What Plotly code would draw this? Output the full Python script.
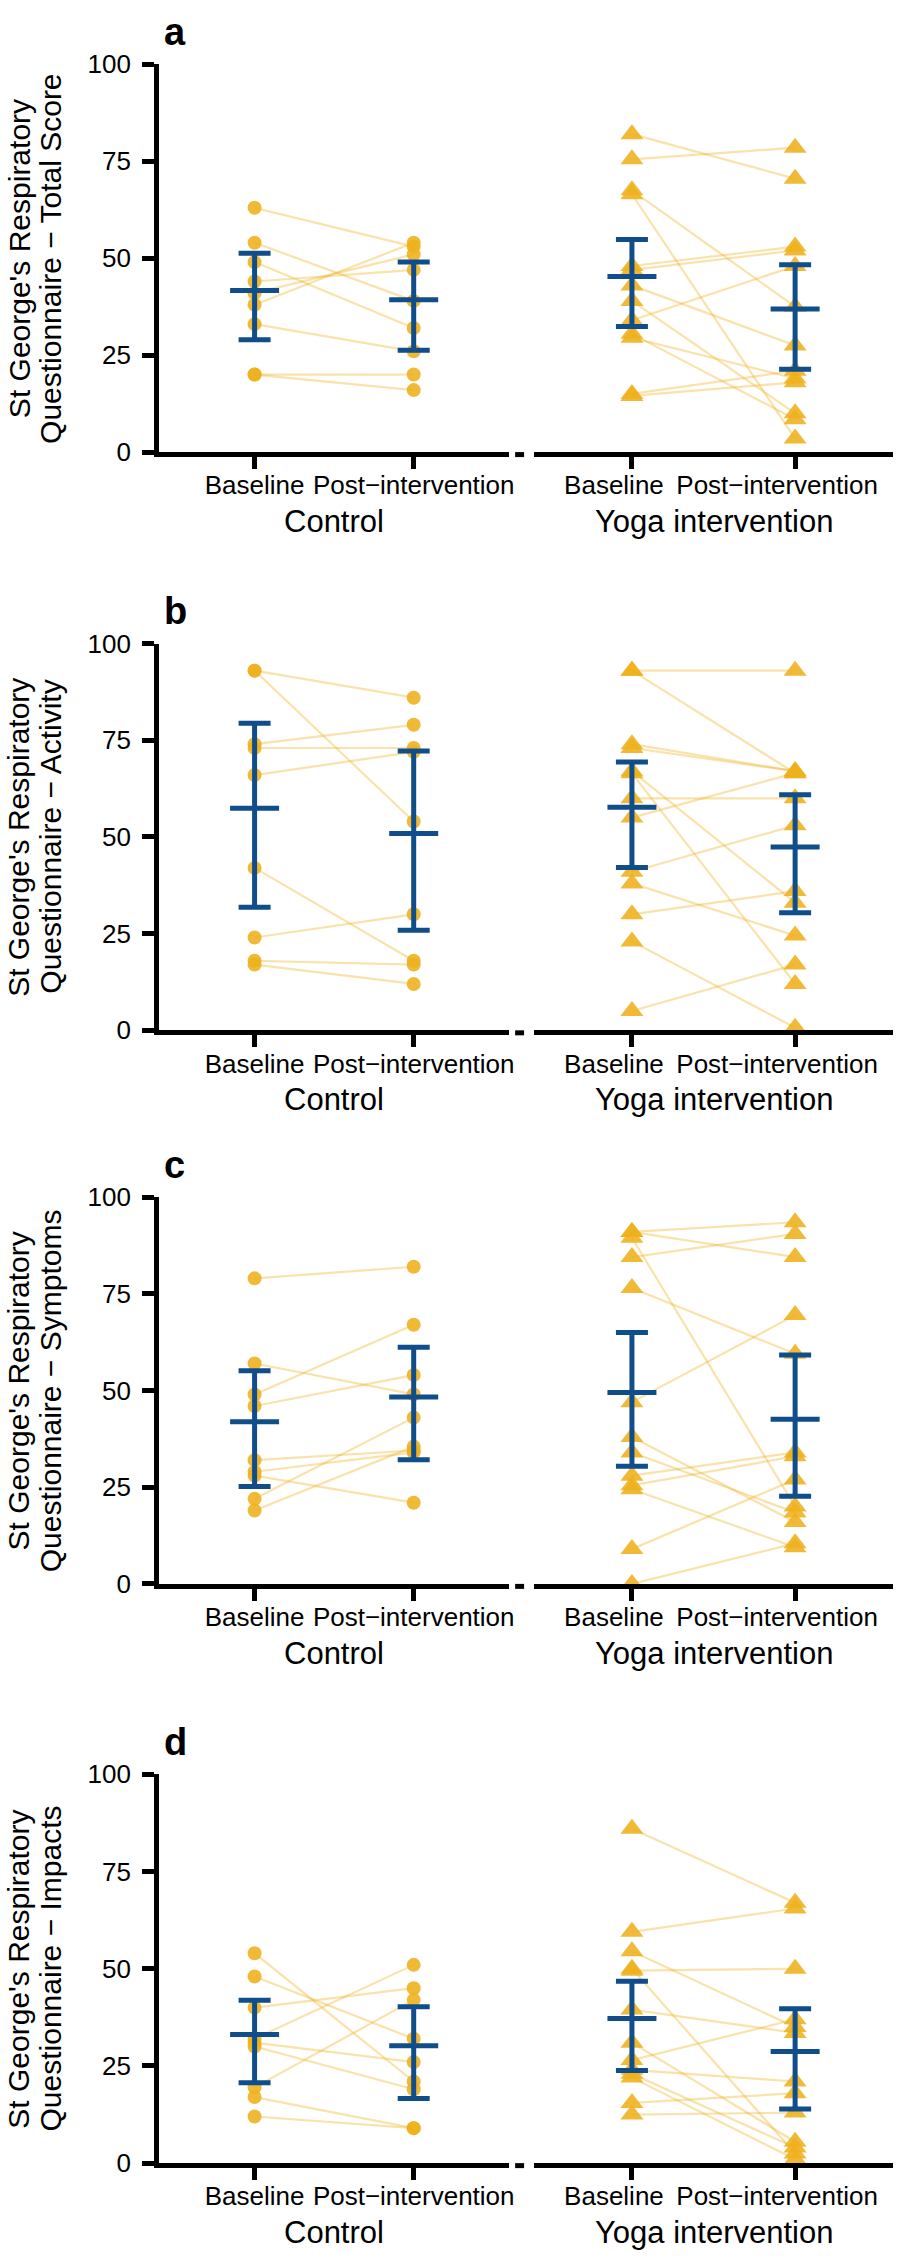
import plotly.graph_objects as go

W, H = 904, 2264
FONT = "Liberation Sans, Arial, sans-serif"

# ---------------- data ----------------
time_labels = ["Baseline", "Post\u2212intervention"]
group_labels = ["Control", "Yoga intervention"]
panel_letters = ["a", "b", "c", "d"]
y_title_line1 = "St George's Respiratory"
y_title_line2 = ["Questionnaire \u2212 Total Score", "Questionnaire \u2212 Activity",
                 "Questionnaire \u2212 Symptoms", "Questionnaire \u2212 Impacts"]
y_ticks = [0, 25, 50, 75, 100]

# Panel a - Total score
ctrl_a_base = [63, 54, 49, 44, 41, 38, 33, 20, 20]
ctrl_a_post = [53, 39, 32, 47, 51, 54, 26, 20, 16]
ctrl_a_mean = [41.7, 39.3]
ctrl_a_lo = [29.0, 26.3]
ctrl_a_hi = [51.3, 49.0]
yoga_a_base = [82, 75.5, 67.5, 66.5, 48, 47, 43, 39, 34, 30.5, 29.5, 15, 14.5]
yoga_a_post = [70.5, 78.5, 37.5, 3.5, 53, 52, 27.5, 10, 48, 8.5, 19, 21, 18]
yoga_a_mean = [45.3, 36.9]
yoga_a_lo = [32.4, 21.4]
yoga_a_hi = [54.8, 48.3]

# Panel b - Activity
ctrl_b_base = [93, 93, 74, 73, 66, 42, 24, 18, 17]
ctrl_b_post = [86, 54, 79, 73, 72, 18, 30, 17, 12]
ctrl_b_mean = [57.4, 50.9]
ctrl_b_lo = [31.8, 25.9]
ctrl_b_hi = [79.4, 72.2]
yoga_b_base = [93, 93, 74, 73, 67, 66.5, 60, 55, 41, 38, 30, 23, 5]
yoga_b_post = [93, 66.5, 67, 67, 33, 12, 60, 66.5, 53, 24.5, 36, 0.7, 17]
yoga_b_mean = [57.7, 47.4]
yoga_b_lo = [42.1, 30.4]
yoga_b_hi = [69.4, 60.9]

# Panel c - Symptoms
ctrl_c_base = [79, 57, 49, 46, 32, 29, 28, 22, 19]
ctrl_c_post = [82, 49, 67, 54, 34.5, 34, 21, 43, 35.5]
ctrl_c_mean = [41.9, 48.3]
ctrl_c_lo = [25.2, 32.1]
ctrl_c_hi = [55.1, 61.2]
yoga_c_base = [91, 91, 89.5, 84.5, 76.5, 47, 38, 34, 28, 25.5, 24.5, 9, 0]
yoga_c_post = [93.5, 84.5, 20, 90.5, 59.5, 69.5, 16, 18.5, 34, 33, 9.5, 27, 10.5]
yoga_c_mean = [49.5, 42.6]
yoga_c_lo = [30.4, 22.7]
yoga_c_hi = [65.0, 59.2]

# Panel d - Impacts
ctrl_d_base = [54, 48, 40, 32, 31, 30, 19.5, 17, 12]
ctrl_d_post = [21, 32, 45, 51, 26, 19, 42, 9, 9]
ctrl_d_mean = [33.1, 30.2]
ctrl_d_lo = [20.7, 16.6]
ctrl_d_hi = [41.9, 40.2]
yoga_d_base = [86, 59.5, 54.5, 50, 49.5, 39.5, 31, 26.5, 24, 23, 22, 15.5, 12.5]
yoga_d_post = [67, 65.5, 35, 2.5, 50, 33.5, 5.5, 37, 21, 4, 1, 18, 13]
yoga_d_mean = [37.2, 28.7]
yoga_d_lo = [23.8, 13.9]
yoga_d_hi = [46.8, 39.7]

panels = [
    [(ctrl_a_base, ctrl_a_post, ctrl_a_mean, ctrl_a_lo, ctrl_a_hi),
     (yoga_a_base, yoga_a_post, yoga_a_mean, yoga_a_lo, yoga_a_hi)],
    [(ctrl_b_base, ctrl_b_post, ctrl_b_mean, ctrl_b_lo, ctrl_b_hi),
     (yoga_b_base, yoga_b_post, yoga_b_mean, yoga_b_lo, yoga_b_hi)],
    [(ctrl_c_base, ctrl_c_post, ctrl_c_mean, ctrl_c_lo, ctrl_c_hi),
     (yoga_c_base, yoga_c_post, yoga_c_mean, yoga_c_lo, yoga_c_hi)],
    [(ctrl_d_base, ctrl_d_post, ctrl_d_mean, ctrl_d_lo, ctrl_d_hi),
     (yoga_d_base, yoga_d_post, yoga_d_mean, yoga_d_lo, yoga_d_hi)],
]

# ---------------- layout geometry (pixels) ----------------
panel_top = [50, 637, 1198, 1783]      # y = 100
panel_bot = [443, 1029, 1590, 2177]    # y = 0
col_x = [(160, 512), (537, 898)]
label_shift = [0, -18]
POINT = "rgba(238,176,28,0.88)"
LINE = "rgba(238,180,34,0.38)"
BLUE = "#104E8B"

def px_x(v):
    return v / W

def px_y(v):
    return 1 - v / H

fig = go.Figure()
layout = dict(width=W, height=H, margin=dict(l=0, r=0, t=0, b=0),
              paper_bgcolor="white", plot_bgcolor="white", showlegend=False,
              font=dict(family=FONT, color="black"))
annotations = []
shapes = []

for i, row in enumerate(panels):
    for g, (base, post, mean, lo, hi) in enumerate(row):
        k = i * 2 + g + 1
        xa = "x" if k == 1 else f"x{k}"
        ya = "y" if k == 1 else f"y{k}"
        # connecting lines
        lx, ly = [], []
        for b, p in zip(base, post):
            lx += [1, 2, None]
            ly += [b, p, None]
        fig.add_trace(go.Scatter(x=lx, y=ly, mode="lines", xaxis=xa, yaxis=ya,
                                 line=dict(color=LINE, width=2.2), hoverinfo="skip"))
        # points
        sym = "circle" if g == 0 else "triangle-up"
        size = 14 if g == 0 else 20
        fig.add_trace(go.Scatter(x=[1] * len(base) + [2] * len(post), y=list(base) + list(post),
                                 mode="markers", xaxis=xa, yaxis=ya,
                                 marker=dict(symbol=sym, size=size, color=POINT,
                                             line=dict(width=0))))
        # mean and interval
        fig.add_trace(go.Scatter(
            x=[1, 2], y=mean, mode="markers", xaxis=xa, yaxis=ya,
            marker=dict(symbol="line-ew", size=35, color=BLUE,
                        line=dict(color=BLUE, width=5)),
            error_y=dict(type="data", symmetric=False,
                         array=[h - m for h, m in zip(hi, mean)],
                         arrayminus=[m - l for m, l in zip(mean, lo)],
                         color=BLUE, thickness=5, width=16)))

        xd = [px_x(col_x[g][0]), px_x(col_x[g][1])]
        yd = [px_y(panel_bot[i]), px_y(panel_top[i])]
        layout["xaxis" if k == 1 else f"xaxis{k}"] = dict(
            domain=xd, range=[0.4, 2.6], anchor=ya, showgrid=False, zeroline=False,
            showline=True, linecolor="black", linewidth=5,
            tickmode="array", tickvals=[1, 2], ticktext=time_labels,
            ticks="outside", ticklen=12, tickwidth=5, tickcolor="black",
            ticklabelstandoff=-6, ticklabelshift=label_shift[g],
            tickfont=dict(family=FONT, size=26, color="black"), fixedrange=True)
        ydict = dict(domain=yd, range=[0, 100], anchor=xa, showgrid=False, zeroline=False,
                     fixedrange=True)
        if g == 0:
            ydict.update(showline=True, linecolor="black", linewidth=5,
                         tickmode="array", tickvals=y_ticks,
                         ticks="outside", ticklen=12, tickwidth=5, tickcolor="black",
                         ticklabelstandoff=6,
                         tickfont=dict(family=FONT, size=26, color="black"))
        else:
            ydict.update(showline=False, showticklabels=False, ticks="")
        layout["yaxis" if k == 1 else f"yaxis{k}"] = ydict

        # group label under each panel
        annotations.append(dict(text=group_labels[g], xref="paper", yref="paper",
                                x=(xd[0] + xd[1]) / 2, y=px_y(panel_bot[i] + 70),
                                xanchor="center", yanchor="middle", showarrow=False,
                                font=dict(family=FONT, size=31, color="black")))

    # panel letter
    annotations.append(dict(text="<b>" + panel_letters[i] + "</b>", xref="paper", yref="paper",
                            x=px_x(163), y=px_y(panel_top[i] - 33), xanchor="left",
                            yanchor="middle", showarrow=False,
                            font=dict(family=FONT, size=38, color="black")))
    # y-axis title (two lines)
    yc = px_y((panel_top[i] + panel_bot[i]) / 2)
    for xpx, txt in [(19, y_title_line1), (51, y_title_line2[i])]:
        annotations.append(dict(text=txt, xref="paper", yref="paper", x=px_x(xpx), y=yc,
                                xanchor="center", yanchor="middle", textangle=-90,
                                showarrow=False,
                                font=dict(family=FONT, size=30, color="black")))
    # small axis stub between facets
    shapes.append(dict(type="line", xref="paper", yref="paper",
                       x0=px_x(518), x1=px_x(527),
                       y0=px_y(panel_bot[i] + 2.5), y1=px_y(panel_bot[i] + 2.5),
                       line=dict(color="black", width=5)))

layout["annotations"] = annotations
layout["shapes"] = shapes
fig.update_layout(**layout)
fig.write_html("out.html", config={"displayModeBar": False},
               post_script="document.body.style.margin='0';document.body.style.padding='0';")
